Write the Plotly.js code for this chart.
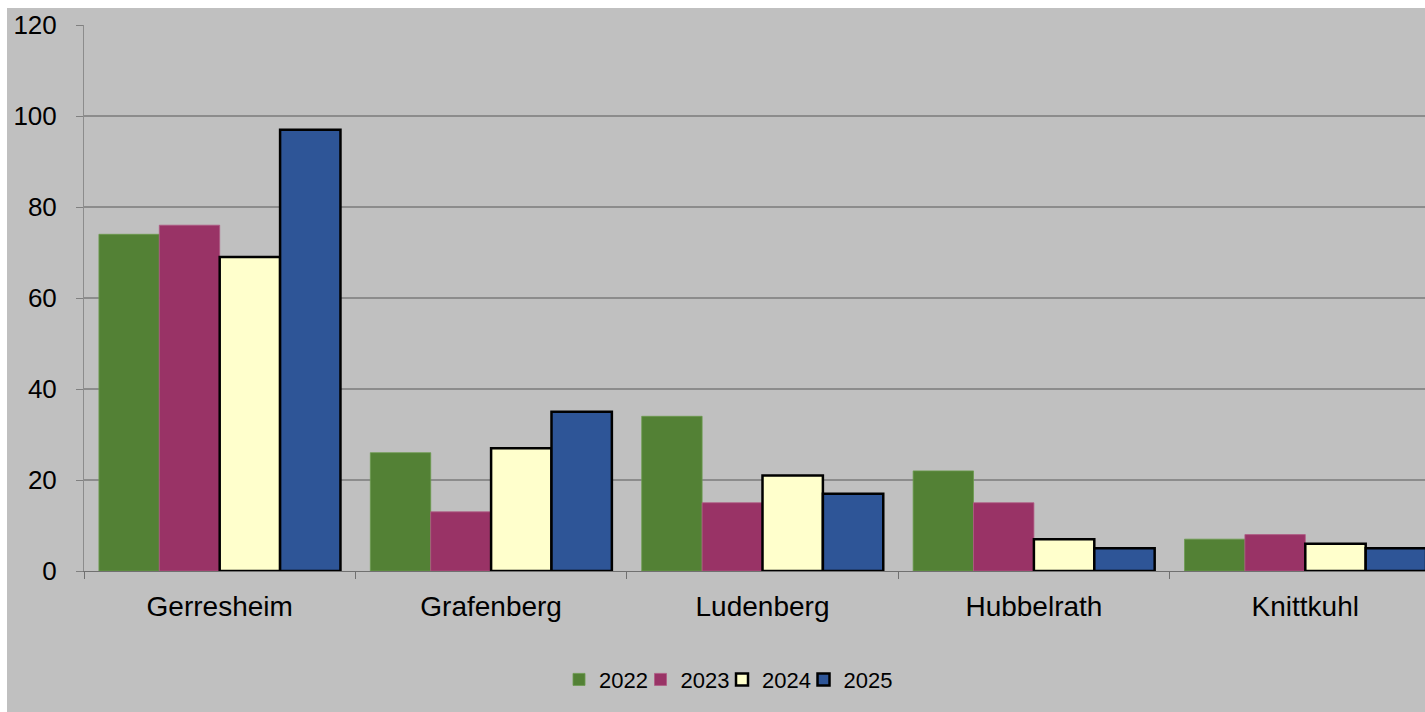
<!DOCTYPE html>
<html>
<head>
<meta charset="utf-8">
<script src="https://cdn.plot.ly/plotly-3.0.1.min.js"></script>
<style>
  html, body { margin: 0; padding: 0; background: #ffffff; overflow: hidden; }
  #chart { position: absolute; left: 7px; top: 8px; width: 1450px; height: 704px; }
</style>
</head>
<body>
<div id="chart"></div>
<script>
// districts on the x axis
const districts = ['Gerresheim', 'Grafenberg', 'Ludenberg', 'Hubbelrath', 'Knittkuhl'];

// values per year
const v2022 = [74, 26, 34, 22, 7];
const v2023 = [76, 13, 15, 15, 8];
const v2024 = [69, 27, 21, 7, 6];
const v2025 = [97, 35, 17, 5, 5];

const yearNames = ['2022', '2023', '2024', '2025'];
const yTicks = [0, 20, 40, 60, 80, 100, 120];

const FONT = 'Liberation Sans, Arial, sans-serif';

const styles = [
  { fill: '#538135', line: '#6b9a4e', w: 0.8 },
  { fill: '#993366', line: '#b05a84', w: 0.8 },
  { fill: '#FFFFCC', line: '#000000', w: 2.5 },
  { fill: '#2E5597', line: '#000000', w: 2.5 }
];

const series = [v2022, v2023, v2024, v2025];

const traces = series.map((vals, i) => ({
  type: 'bar',
  name: yearNames[i],
  x: districts,
  y: vals,
  marker: {
    color: styles[i].fill,
    line: { color: styles[i].line, width: styles[i].w }
  },
  hoverinfo: 'x+y+name'
}));

// legend-only spacer so the tight entrywidth does not clip the last label
traces.push({
  type: 'scatter',
  mode: 'markers',
  visible: 'legendonly',
  x: districts.slice(0, 1),
  y: v2025.slice(0, 1),
  name: ' ',
  marker: { color: 'rgba(0,0,0,0)' },
  hoverinfo: 'skip'
});

const layout = {
  width: 1450,
  height: 704,
  paper_bgcolor: '#C0C0C0',
  plot_bgcolor: '#C0C0C0',
  font: { family: FONT, color: '#000000', size: 26 },
  margin: { l: 77, r: 16, t: 17, b: 141 },
  barmode: 'group',
  bargap: 0.11,
  bargroupgap: 0,
  showlegend: true,
  legend: {
    orientation: 'h',
    xref: 'container',
    yref: 'container',
    x: 0.3807,
    xanchor: 'left',
    y: 0.046,
    yanchor: 'middle',
    bgcolor: 'rgba(0,0,0,0)',
    font: { family: FONT, size: 22, color: '#000000' },
    itemwidth: 30,
    entrywidth: 36.5,
    tracegroupgap: 0
  },
  xaxis: {
    type: 'category',
    tickson: 'boundaries',
    ticks: 'outside',
    ticklen: 7,
    tickcolor: '#707070',
    tickwidth: 1,
    showline: true,
    linecolor: '#707070',
    linewidth: 1,
    showgrid: false,
    tickfont: { family: FONT, size: 28, color: '#000000' },
    ticklabelstandoff: 10,
    fixedrange: true
  },
  yaxis: {
    range: [0, 120],
    tickvals: yTicks,
    ticks: 'outside',
    ticklen: 7,
    tickcolor: '#808080',
    tickwidth: 1,
    showline: true,
    linecolor: '#8C8C8C',
    linewidth: 1,
    showgrid: true,
    gridcolor: '#8C8C8C',
    gridwidth: 1.2,
    zeroline: false,
    tickfont: { family: FONT, size: 26, color: '#000000' },
    ticklabelstandoff: 14,
    fixedrange: true
  }
};

Plotly.newPlot('chart', traces, layout, { displayModeBar: false, staticPlot: true });
</script>
</body>
</html>
